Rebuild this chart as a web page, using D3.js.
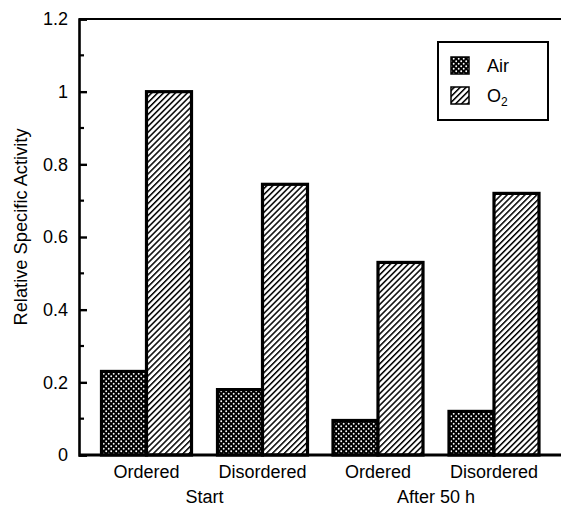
<!DOCTYPE html>
<html>
<head>
<meta charset="utf-8">
<script src="https://cdn.jsdelivr.net/npm/d3@7"></script>
<style>
  html, body { margin: 0; padding: 0; background: #fff; }
  svg { display: block; font-family: "Liberation Sans", Arial, sans-serif; }
</style>
</head>
<body>
<svg id="chart" width="561" height="506"></svg>
<script>
// Relative specific activity, grouped by sample condition
const groups = ["Start", "After 50 h"];
const categories = ["Ordered", "Disordered", "Ordered", "Disordered"];
const categoryGroup = [0, 0, 1, 1];
const series = ["Air", "O2"];
const airValues = [0.23, 0.18, 0.095, 0.12];
const o2Values = [1.0, 0.745, 0.53, 0.72];
const yTicks = [0, 0.2, 0.4, 0.6, 0.8, 1, 1.2];
const yTickLabels = ["0", "0.2", "0.4", "0.6", "0.8", "1", "1.2"];

const svg = d3.select("#chart");
const margin = { left: 79, right: 0, top: 19, bottom: 51 };
const W = 561, H = 506;
const FS = 18;

const y = d3.scaleLinear().domain([0, 1.2]).range([H - margin.bottom, margin.top]);

// fill patterns
const defs = svg.append("defs");
const dots = defs.append("pattern").attr("id", "dots")
  .attr("patternUnits", "userSpaceOnUse").attr("width", 5).attr("height", 5);
dots.append("rect").attr("width", 5).attr("height", 5).attr("fill", "#000");
dots.append("circle").attr("cx", 1.2).attr("cy", 1.2).attr("r", 0.95).attr("fill", "#fff");
dots.append("circle").attr("cx", 3.7).attr("cy", 3.7).attr("r", 0.95).attr("fill", "#fff");

const hatch = defs.append("pattern").attr("id", "hatch")
  .attr("patternUnits", "userSpaceOnUse").attr("width", 4.2).attr("height", 4.2)
  .attr("patternTransform", "rotate(45)");
hatch.append("rect").attr("width", 4.2).attr("height", 4.2).attr("fill", "#fff");
hatch.append("line").attr("x1", 0).attr("y1", 0).attr("x2", 0).attr("y2", 4.2)
  .attr("stroke", "#000").attr("stroke-width", 3);

// category centres along the baseline; each holds an Air bar and an O2 bar
const barW = 45;
const catCenters = [146.5, 262.5, 378, 494];
const xCat = d3.scaleOrdinal().domain(d3.range(categories.length)).range(catCenters);

const barsData = [];
categories.forEach((c, i) => {
  barsData.push({ i, s: "Air", v: airValues[i] });
  barsData.push({ i, s: "O2", v: o2Values[i] });
});

svg.append("g").selectAll("rect").data(barsData).join("rect")
  .attr("x", d => d.s === "Air" ? xCat(d.i) - barW : xCat(d.i))
  .attr("y", d => y(d.v))
  .attr("width", barW)
  .attr("height", d => y(0) - y(d.v))
  .attr("fill", d => d.s === "Air" ? "url(#dots)" : "url(#hatch)")
  .attr("stroke", "#000")
  .attr("stroke-width", 3.2);

// frame: top and bottom lines
const frame = svg.append("g").attr("stroke", "#000").attr("fill", "none");
frame.append("line").attr("x1", margin.left).attr("x2", W).attr("y1", y(1.2)).attr("y2", y(1.2)).attr("stroke-width", 2.2);
frame.append("line").attr("x1", margin.left).attr("x2", W).attr("y1", y(0)).attr("y2", y(0)).attr("stroke-width", 3);

// y axis with inward ticks
const yAxis = d3.axisLeft(y).tickValues(yTicks)
  .tickFormat((d, i) => yTickLabels[i]).tickSize(-8).tickPadding(11);
const gy = svg.append("g").attr("transform", `translate(${margin.left},0)`).call(yAxis);
gy.select(".domain").attr("stroke-width", 2.6);
gy.selectAll(".tick line").attr("stroke-width", 2.4);
gy.selectAll(".tick text").attr("font-size", FS).attr("fill", "#000")
  .attr("font-family", "Liberation Sans, Arial, sans-serif");
// minor ticks
svg.append("g").selectAll("line").data(d3.range(0.1, 1.2, 0.2)).join("line")
  .attr("x1", margin.left).attr("x2", margin.left + 5)
  .attr("y1", d => y(d)).attr("y2", d => y(d))
  .attr("stroke", "#000").attr("stroke-width", 2.2);

// category labels
svg.append("g").selectAll("text").data(categories).join("text")
  .attr("x", (d, i) => xCat(i)).attr("y", 478)
  .attr("text-anchor", "middle").attr("font-size", FS).text(d => d);

// group labels, centred under their categories
svg.append("g").selectAll("text").data(groups).join("text")
  .attr("x", (d, gi) => d3.mean(categoryGroup.map((g, i) => g === gi ? xCat(i) : null).filter(v => v !== null)))
  .attr("y", 503).attr("text-anchor", "middle").attr("font-size", FS).text(d => d);

// y axis title
svg.append("text").attr("transform", "translate(27,227) rotate(-90)")
  .attr("text-anchor", "middle").attr("font-size", 18.3).text("Relative Specific Activity");

// legend
const lg = svg.append("g");
lg.append("rect").attr("x", 438).attr("y", 42).attr("width", 110).attr("height", 78)
  .attr("fill", "#fff").attr("stroke", "#000").attr("stroke-width", 2);
const legendRows = [
  { fill: "url(#dots)", y: 57, label: "Air" },
  { fill: "url(#hatch)", y: 87, label: "O" }
];
legendRows.forEach((r, k) => {
  lg.append("rect").attr("x", 451).attr("y", r.y).attr("width", 18).attr("height", 17)
    .attr("fill", r.fill).attr("stroke", "#000").attr("stroke-width", 1.5);
  const t = lg.append("text").attr("x", 487).attr("y", r.y + 15).attr("font-size", FS).text(r.label);
  if (k === 1) t.append("tspan").attr("font-size", 12).attr("dy", 4).text("2");
});
</script>
</body>
</html>
